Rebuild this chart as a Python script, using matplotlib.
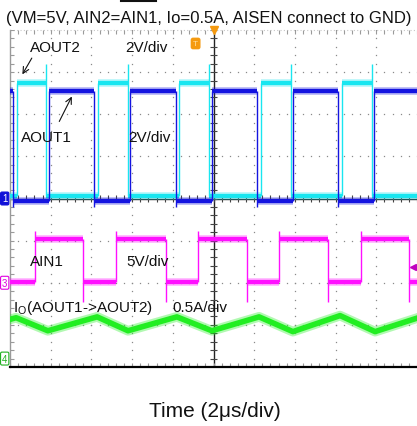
import numpy as np
import matplotlib
matplotlib.use('Agg')
import matplotlib.pyplot as plt
from matplotlib.lines import Line2D

plt.rcParams['font.family'] = ['Liberation Sans', 'DejaVu Sans']
plt.rcParams['mathtext.fontset'] = 'custom'
plt.rcParams['mathtext.rm'] = 'Liberation Sans'

# --- scope readings, in divisions (x: 0..10, y: 0..8) ---
# AOUT2 (ch2, cyan)
aout2_rise = [0.17, 2.16, 4.15, 6.17, 8.16]
aout2_fall = [0.88, 2.90, 4.89, 6.90, 8.89]
aout2_lo, aout2_hi, aout2_spike = 4.05, 6.75, 7.20

# AOUT1 (ch1, blue)
aout1_rise = [0.96, 2.95, 4.96, 6.95, 8.94]
aout1_fall = [0.07, 2.06, 4.08, 6.07, 8.06]
aout1_lo, aout1_hi, aout1_dip = 3.95, 6.56, 3.80

# AIN1 (ch3, magenta)
ain1_rise = [0.61, 2.60, 4.62, 6.61, 8.62]
ain1_fall = [1.79, 3.83, 5.82, 7.81, 9.80]
ain1_lo, ain1_hi, ain1_dip, ain1_over = 2.02, 3.04, 1.55, 3.22

# Io (ch4, green) triangle vertices
io_t = [0.0, 0.15, 0.93, 2.14, 2.90, 4.10, 4.96, 6.12, 6.95, 8.11, 8.97, 10.0]
io_v = [1.13, 1.17, 0.86, 1.19, 0.86, 1.19, 0.86, 1.19, 0.84, 1.22, 0.84, 1.16]

# channel ground markers / trigger
ch_marks = [('1', 4.0, '#1010d8'), ('3', 2.0, '#e000e0'), ('4', 0.2, '#20b020')]
trig_pos = 5.0
trig_level = 2.38

C_CYAN = '#19e6f0'
C_BLUE = '#1414e0'
C_MAG = '#ff10ff'
C_GRN = '#22ee22'
C_ORG = '#f59a10'


def draw_square(ax, rises, falls, lo, hi, start_hi, color, lw, edge_lo, edge_hi, z):
    times = sorted(rises + falls)
    bounds = [0.0] + times + [10.0]
    level = hi if start_hi else lo
    for a, b in zip(bounds[:-1], bounds[1:]):
        # soft halo to mimic the noisy band, then the solid core
        ax.hlines(level, a, b, color=color, lw=lw * 1.8, alpha=0.35, zorder=z)
        ax.hlines(level, a, b, color=color, lw=lw, zorder=z)
        if b in rises:
            level = hi
        elif b in falls:
            level = lo
    ax.vlines(rises, edge_lo[0], edge_hi[0], color=color, lw=1.0, zorder=z)
    ax.vlines(falls, edge_lo[1], edge_hi[1], color=color, lw=1.0, zorder=z)


fig = plt.figure(figsize=(4.17, 4.27), dpi=100)
ax = fig.add_axes([10 / 417, 59 / 427, 407 / 417, 337 / 427])
ax.set_xlim(0, 10)
ax.set_ylim(0, 8)
ax.axis('off')

# dotted graticule
fine_x = np.arange(0, 10.01, 0.2)
fine_y = np.arange(0, 8.01, 0.2)
for gx in range(1, 10):
    if gx == 5:
        continue
    ax.plot(np.full_like(fine_y, gx), fine_y, ls='none', marker='s', ms=0.9,
            color='#8a8a8a', mew=0, zorder=1)
for gy in range(1, 8):
    if gy == 4:
        continue
    ax.plot(fine_x, np.full_like(fine_x, gy), ls='none', marker='s', ms=0.9,
            color='#8a8a8a', mew=0, zorder=1)

# center cross with ticks
ax.axvline(5, color='#222222', lw=1.0, zorder=2)
ax.axhline(4, color='#222222', lw=1.0, zorder=2)
ax.hlines(fine_y, 4.92, 5.08, color='#444444', lw=0.8, zorder=2)
ax.vlines(fine_x, 3.92, 4.08, color='#444444', lw=0.8, zorder=2)

# frame with ticks
ax.plot([0, 0], [0, 8], color='#9a9a9a', lw=1.0, zorder=2, clip_on=False)
ax.plot([0, 10], [8, 8], color='#c8c8c8', lw=0.8, ls=(0, (1, 2)), zorder=2, clip_on=False)
ax.plot([0, 10], [0, 0], color='black', lw=1.6, zorder=6, clip_on=False)
ax.hlines(fine_y, 0, 0.09, color='#9a9a9a', lw=0.8, zorder=2)
ax.vlines(fine_x, 7.9, 8, color='#9a9a9a', lw=0.8, zorder=2)
ax.vlines(fine_x, 0, 0.1, color='#9a9a9a', lw=0.8, zorder=2)

# traces
draw_square(ax, aout2_rise, aout2_fall, aout2_lo, aout2_hi, False, C_CYAN, 3.0,
            (aout2_lo, aout2_lo), (aout2_hi, aout2_spike), 3)
draw_square(ax, aout1_rise, aout1_fall, aout1_lo, aout1_hi, True, C_BLUE, 3.0,
            (aout1_lo, aout1_dip), (aout1_hi, aout1_hi), 4)
draw_square(ax, ain1_rise, ain1_fall, ain1_lo, ain1_hi, False, C_MAG, 3.0,
            (ain1_lo, ain1_dip), (ain1_over, ain1_hi), 4)
ax.plot(io_t, io_v, color=C_GRN, lw=7, alpha=0.35, zorder=4)
ax.plot(io_t, io_v, color=C_GRN, lw=4.0, zorder=4)

# labels
lab = dict(fontsize=11, color='#111111', va='baseline', ha='left', zorder=7)
ax.text(0.49, 7.51, 'AOUT2', **lab)
ax.text(2.83, 7.51, '2V/div', **lab)
ax.text(0.27, 5.37, 'AOUT1', **lab)
ax.text(2.90, 5.37, '2V/div', **lab)
ax.text(0.49, 2.42, 'AIN1', **lab)
ax.text(2.87, 2.42, '5V/div', **lab)
ax.text(0.07, 1.33, r'I$_\mathregular{O}$(AOUT1->AOUT2)', **lab)
ax.text(4.00, 1.33, '0.5A/div', **lab)

arr = dict(arrowstyle='->', lw=0.8, color='#111111', mutation_scale=11)
ax.annotate('', xy=(0.27, 6.89), xytext=(0.57, 7.39), arrowprops=arr, zorder=7)
ax.annotate('', xy=(1.55, 6.48), xytext=(1.18, 5.77), arrowprops=arr, zorder=7)

# channel markers at the left edge
for name, lvl, col in ch_marks:
    fc = col if name == '1' else 'white'
    tc = 'white' if name == '1' else col
    ax.text(-0.13, lvl, name, fontsize=7, color=tc, ha='center', va='center',
            clip_on=False, zorder=8,
            bbox=dict(boxstyle='round,pad=0.15', fc=fc, ec=col, lw=0.8))

# trigger markers
ax.plot(trig_pos, 8.0, marker='v', ms=6, color=C_ORG, clip_on=False, zorder=8)
ax.text(4.56, 7.68, 'T', fontsize=6, color='#ffe0a0', ha='center', va='center',
        zorder=8, bbox=dict(boxstyle='round,pad=0.2', fc=C_ORG, ec=C_ORG))
ax.plot(9.9, trig_level, marker='<', ms=4, color='#c000c0', clip_on=False, zorder=8)

# header with overbar on AIN1
fs_title = 12
prefix = '(VM=5V, AIN2='
word = 'AIN1'
title = prefix + word + ', Io=0.5A, AISEN connect to GND)'
t = fig.text(0.5, 1 - 23.5 / 427, title, fontsize=fs_title, ha='center', va='baseline',
             color='#111111')
r = fig.canvas.get_renderer()
bb = t.get_window_extent(r)
tmp = fig.text(0, 0, prefix, fontsize=fs_title)
pw = tmp.get_window_extent(r).width
tmp.set_text(word)
ww = tmp.get_window_extent(r).width
tmp.remove()
W, H = fig.bbox.width, fig.bbox.height
x0 = (bb.x0 + pw + 1) / W
x1 = (bb.x0 + pw + ww - 1) / W
fig.add_artist(Line2D([x0, x1], [1 - 2 / 427] * 2, transform=fig.transFigure,
                      color='#111111', lw=1.5))

fig.text(215 / 417, 10 / 427, 'Time (2\u03bcs/div)', fontsize=15, ha='center',
         va='baseline', color='#111111')

fig.savefig('out.png', dpi=100)
